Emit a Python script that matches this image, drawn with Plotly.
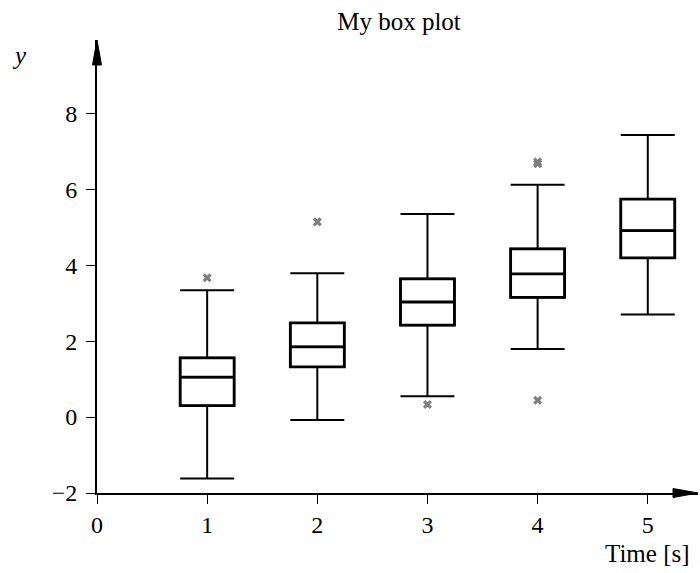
import plotly.graph_objects as go

# ---- data ----
positions = [1, 2, 3, 4, 5]
lower_whisker = [-1.62, -0.08, 0.55, 1.79, 2.70]
q1_vals = [0.30, 1.32, 2.42, 3.15, 4.19]
median_vals = [1.05, 1.85, 3.03, 3.77, 4.91]
q3_vals = [1.56, 2.48, 3.64, 4.43, 5.74]
upper_whisker = [3.34, 3.79, 5.35, 6.12, 7.43]
outlier_x = [1, 2, 3, 4, 4, 4]
outlier_y = [3.67, 5.14, 0.33, 6.72, 6.67, 0.44]
x_ticks = [0, 1, 2, 3, 4, 5]
y_ticks = [-2, 0, 2, 4, 6, 8]
x_range = [0, 5.456]
y_range = [-2, 9.93]

FONT = "Liberation Serif"

fig = go.Figure()

# whiskers (thin lines, white fill)
fig.add_trace(go.Box(
    x=positions, q1=q1_vals, median=median_vals, q3=q3_vals,
    lowerfence=lower_whisker, upperfence=upper_whisker,
    boxpoints=False, width=0.49, whiskerwidth=1,
    fillcolor="white", line=dict(color="black", width=2),
    showlegend=False, hoverinfo="skip",
))
# thicker box outline + median on top
fig.add_trace(go.Box(
    x=positions, q1=q1_vals, median=median_vals, q3=q3_vals,
    lowerfence=q1_vals, upperfence=q3_vals,
    boxpoints=False, width=0.49, whiskerwidth=0,
    fillcolor="rgba(0,0,0,0)", line=dict(color="black", width=2.8),
    showlegend=False, hoverinfo="skip",
))
# outliers
fig.add_trace(go.Scatter(
    x=outlier_x, y=outlier_y, mode="markers",
    marker=dict(symbol="x", size=8, color="#7f7f7f", line=dict(width=0)),
    showlegend=False, cliponaxis=False,
))

axis_common = dict(
    showgrid=False, zeroline=False, showline=True, linecolor="black",
    linewidth=2, ticks="outside", ticklen=9, tickwidth=1.2, tickcolor="black",
    tickfont=dict(family=FONT, size=24, color="black"),
)

fig.update_layout(
    width=700, height=573,
    margin=dict(l=97, r=2, t=40, b=80),
    paper_bgcolor="white", plot_bgcolor="white",
    boxmode="overlay",
    title=dict(text="My box plot", x=0.5025, xref="paper", y=1 - 21 / 573,
               yref="container", xanchor="center", yanchor="middle",
               font=dict(family=FONT, size=25, color="black")),
    xaxis=dict(range=x_range, tickvals=x_ticks, ticktext=[str(v) for v in x_ticks],
               **axis_common),
    yaxis=dict(range=y_range, tickvals=y_ticks,
               ticktext=[("\u2212" + str(-v)) if v < 0 else str(v) for v in y_ticks],
               ticklabelstandoff=4, **axis_common),
    annotations=[
        dict(text="<i>y</i>", xref="paper", yref="paper",
             x=(19 - 97) / 601, y=(493 - 56) / 453,
             xanchor="center", yanchor="middle", showarrow=False,
             font=dict(family=FONT, size=25, color="black")),
        dict(text="Time [s]", xref="paper", yref="paper",
             x=(692 - 97) / 601, y=(493 - 553) / 453,
             xanchor="right", yanchor="middle", showarrow=False,
             font=dict(family=FONT, size=25, color="black")),
    ],
    shapes=[
        # x-axis arrow head
        dict(type="path", xref="paper", yref="paper", xsizemode="pixel", ysizemode="pixel",
             xanchor=1, yanchor=0,
             path="M 0 0 L -25 4.5 L -25 -4.5 Z",
             fillcolor="black", line=dict(color="black", width=1)),
        # y-axis arrow head
        dict(type="path", xref="paper", yref="paper", xsizemode="pixel", ysizemode="pixel",
             xanchor=0, yanchor=1,
             path="M 0 0 L 4.5 -25 L -4.5 -25 Z",
             fillcolor="black", line=dict(color="black", width=1)),
    ],
)

fig.write_html("out.html", config={"displayModeBar": False},
               post_script="document.body.style.margin='0';")
